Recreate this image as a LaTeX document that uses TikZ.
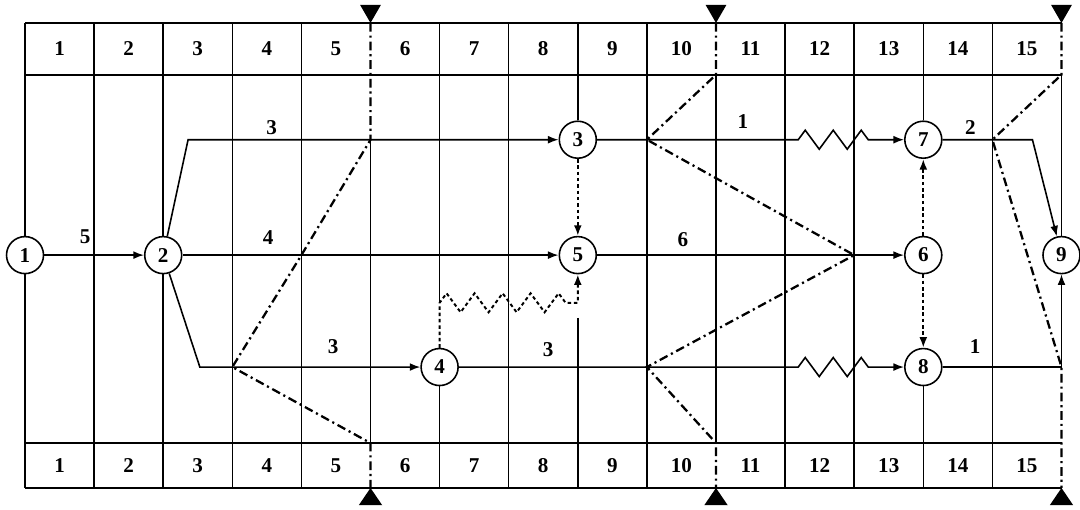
\documentclass[tikz,border=0pt]{standalone}
\usepackage{fontspec}
\setmainfont{Liberation Serif}
\usetikzlibrary{arrows.meta, decorations.pathmorphing}
\tikzset{
    evento/.style={circle, draw, line width=0.9pt, fill=white, minimum size=0.74cm, inner sep=0pt, font=\large\bfseries},
    lavoro/.style={-{Latex[length=6pt,width=4.5pt]}, line width=0.9pt},
    fittizio/.style={-{Latex[length=6pt,width=4.5pt]}, line width=1.1pt, dash pattern=on 2pt off 1.6pt},
    griglia/.style={line width=0.9pt},
    fronte/.style={line width=1.3pt, dash pattern=on 5pt off 2.2pt on 1.2pt off 2.2pt},
    onda/.style={decoration={zigzag, segment length=0.56cm, amplitude=0.19cm}},
    lbl/.style={font=\large\bfseries},
}
\begin{document}
\begin{tikzpicture}[x=1.382cm, y=1.382cm]
    \useasboundingbox (-0.362,-0.318) rectangle (15.268,7.062);

    % Righe orizzontali e bordo sinistro
    \draw[griglia] (0,6.73) -- (15,6.73);
    \draw[griglia] (0,5.98) -- (15,5.98);
    \draw[griglia] (0,0.65) -- (15,0.65);
    \draw[griglia] (0,0) -- (15,0);
    \draw[griglia] (0,0) -- (0,6.73);

    % Verticali intere
    \foreach \x in {1,2,3,4,7,9,11,12,14}
        \draw[griglia] (\x,0) -- (\x,6.73);
    % Verticali interrotte
    \draw[griglia] (5,0.65) -- (5,5.04);
    \draw[griglia] (10,0.65) -- (10,5.98);
    \draw[griglia] (6,6.73) -- (6,2.68);
    \draw[griglia] (8,2.46) -- (8,0);

    % Giorni in testa e al piede
    \foreach \d in {1,...,15} {
        \node[lbl] (h\d) at (\d-0.5,6.355) {\d};
        \node[lbl] (f\d) at (\d-0.5,0.325) {\d};
    }

    % Eventi
    \node[evento] (n1) at (0,3.37) {1};
    \node[evento] (n2) at (2,3.37) {2};
    \node[evento] (n3) at (8,5.04) {3};
    \node[evento] (n4) at (6,1.75) {4};
    \node[evento] (n5) at (8,3.37) {5};
    \node[evento] (n6) at (13,3.37) {6};
    \node[evento] (n7) at (13,5.04) {7};
    \node[evento] (n8) at (13,1.75) {8};
    \node[evento] (n9) at (15,3.37) {9};

    \draw[griglia] (8,6.73) -- (n3);
    \draw[griglia] (13,6.73) -- (n7);
    \draw[griglia] (n4) -- (6,0);
    \draw[griglia] (n8) -- (13,0);
    \draw[griglia] (15,5.98) -- (n9);

    % Punti di piega
    \coordinate (p23) at (2.36,5.04);
    \coordinate (p24) at (2.53,1.75);
    \coordinate (w37a) at (11.19,5.04);
    \coordinate (w37b) at (12.37,5.04);
    \coordinate (w48a) at (11.19,1.75);
    \coordinate (w48b) at (12.37,1.75);
    \coordinate (w45a) at (6,2.68);
    \coordinate (w45b) at (8,2.68);
    \coordinate (p79) at (14.58,5.04);
    \coordinate (p89) at (15,1.75);

    % Attivita
    \draw[lavoro] (n1) -- (n2);
    \draw[lavoro] (n2) -- (p23) -- (n3);
    \draw[lavoro] (n2) -- (n5);
    \draw[lavoro] (n2) -- (p24) -- (n4);
    \draw[lavoro] (n3) -- (w37a) decorate[onda] {-- (w37b)} -- (n7);
    \draw[lavoro] (n4) -- (w48a) decorate[onda] {-- (w48b)} -- (n8);
    \draw[lavoro] (n5) -- (n6);
    \draw[lavoro] (n7) -- (p79) -- (n9);
    \draw[lavoro] (n8) -- (p89) -- (n9);

    % Attivita fittizie
    \draw[fittizio] (n3) -- (n5);
    \draw[fittizio] (n6) -- (n7);
    \draw[fittizio] (n6) -- (n8);
    \draw[fittizio] (n4) -- (w45a) decorate[onda] {-- (w45b)} -- (n5);

    % Durate
    \node[lbl] (d12) at (0.87,3.63) {5};
    \node[lbl] (d23) at (3.57,5.21) {3};
    \node[lbl] (d25) at (3.52,3.63) {4};
    \node[lbl] (d24) at (4.46,2.04) {3};
    \node[lbl] (d48) at (7.57,2.00) {3};
    \node[lbl] (d37) at (10.39,5.30) {1};
    \node[lbl] (d56) at (9.52,3.59) {6};
    \node[lbl] (d79) at (13.68,5.21) {2};
    \node[lbl] (d89) at (13.75,2.04) {1};

    % Linee di controllo
    \draw[fronte] (5,6.73) -- (5,5.04) -- (4,3.37) -- (3,1.75) -- (5,0.65) -- (5,0);
    \draw[fronte] (10,6.73) -- (10,5.98) -- (9,5.04) -- (12,3.37) -- (9,1.75) -- (10,0.65) -- (10,0);
    \draw[fronte] (15,6.73) -- (15,5.98) -- (14,5.04) -- (15,1.75) -- (15,0);

    % Triangoli di controllo
    \foreach \x in {5,10,15} {
        \fill (\x,6.73) -- ++(-0.15,0.26) -- ++(0.30,0) -- cycle;
        \fill (\x,0) -- ++(-0.17,-0.25) -- ++(0.34,0) -- cycle;
    }
\end{tikzpicture}
\end{document}
